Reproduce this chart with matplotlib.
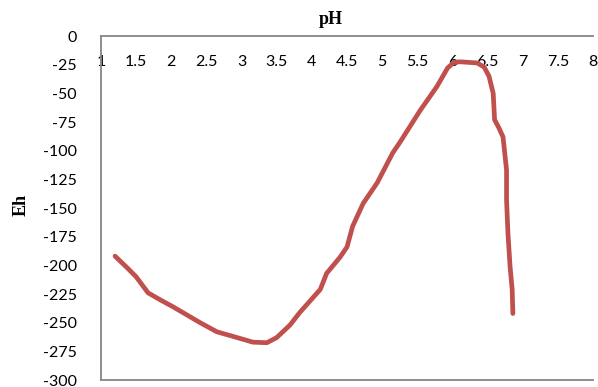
import numpy as np
import matplotlib.pyplot as plt

# Eh-pH curve
ph = [1.2, 1.37, 1.5, 1.67, 1.84, 2.02, 2.41, 2.65, 2.88, 3.16, 3.36, 3.5, 3.69, 3.83,
      4.12, 4.21, 4.40, 4.50, 4.58, 4.73, 4.93, 5.15, 5.25, 5.54, 5.78, 5.93, 6.02, 6.11,
      6.35, 6.45, 6.52, 6.58, 6.60, 6.66, 6.72, 6.77, 6.77, 6.79, 6.82, 6.85, 6.86]
eh = [-192, -202, -210, -224, -230, -236, -250, -258, -262, -267, -267.5, -263, -252, -241,
      -221, -207, -193, -184, -166, -146, -128, -102, -93, -65, -44, -28, -23, -22.5,
      -23.5, -27, -35, -50, -73, -80, -88, -117, -143, -172, -201, -221, -242]

xticks = np.arange(1, 8.01, 0.5)
xlabels = ['1', '1.5', '2', '2.5', '3', '3.5', '4', '4.5', '5', '5.5', '6', '6.5', '7', '7.5', '8']
yticks = np.arange(-300, 1, 25)

plt.rcParams['font.family'] = ['Lato', 'DejaVu Sans']

fig = plt.figure(figsize=(5.98, 3.87), dpi=100)
ax = fig.add_axes([101 / 598, 1 - 380 / 387, (593 - 101) / 598, (380 - 36) / 387])

ax.plot(ph, eh, color='#C0504D', lw=3.4, solid_capstyle='round', solid_joinstyle='round')

ax.set_xlim(1, 8)
ax.set_ylim(-300, 0)
ax.set_xticks(xticks)
ax.set_xticklabels(xlabels)
ax.set_yticks(yticks)
ax.set_yticklabels([str(int(v)) for v in yticks])

ax.tick_params(axis='x', bottom=False, top=False, labelbottom=False, labeltop=True,
               pad=-27, labelsize=11.5, colors='#000000')
ax.tick_params(axis='y', left=False, pad=14, labelsize=11.5)

for s in ['left', 'top', 'bottom']:
    ax.spines[s].set_color('#868686')
    ax.spines[s].set_linewidth(1.3)
ax.spines['right'].set_visible(False)

fig.text(331 / 598, 1 - 20 / 387, 'pH', ha='center', va='center', fontsize=13,
         fontweight='bold', family='Liberation Serif')
fig.text(21 / 598, 1 - 205 / 387, 'Eh', ha='center', va='center', fontsize=13,
         fontweight='bold', family='Liberation Serif', rotation=90)

fig.savefig('out.png', dpi=100)
